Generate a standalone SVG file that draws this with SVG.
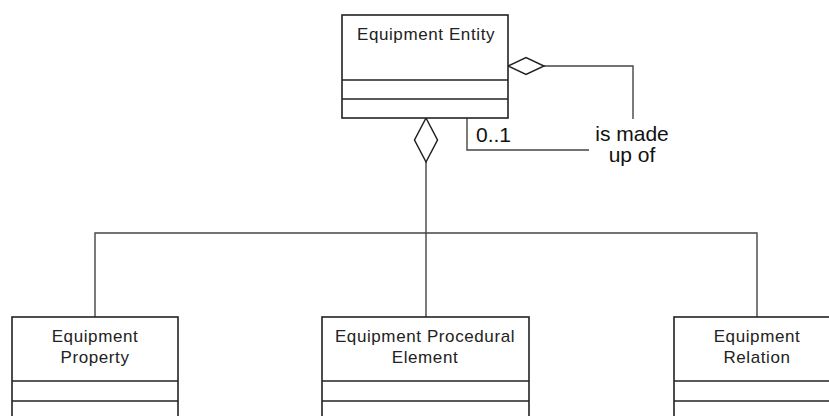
<svg xmlns="http://www.w3.org/2000/svg" width="829" height="416" viewBox="0 0 829 416">
<style>
.box{fill:#fff;stroke:#222;stroke-width:1.6}
.div{stroke:#222;stroke-width:1.6}
.t{font-family:"Liberation Sans",Arial,sans-serif;font-size:17px;letter-spacing:0.6px;fill:#222;text-anchor:middle}
.lbl{font-family:"Liberation Sans",Arial,sans-serif;font-size:21px;fill:#111}
.c{fill:none;stroke:#444;stroke-width:1.4}
.dia{fill:#fff;stroke:#222;stroke-width:1.5}
</style>
<rect width="829" height="416" fill="#fff"/>
<g id="connectors">
<polyline class="c" points="544,66 633,66 633,119"/>
<polyline class="c" points="467,118 467,150 589,150"/>
<line class="c" x1="426" y1="162" x2="426" y2="317"/>
<polyline class="c" points="95,317 95,233 757,233 757,317"/>
<polygon class="dia" points="508,66 526,57.5 544,66 526,74.5"/>
<polygon class="dia" points="426,118 437.5,140 426,162 414.5,140"/>
<text class="lbl" x="476" y="142">0..1</text>
<text class="lbl" x="632" y="141" text-anchor="middle">is made</text>
<text class="lbl" x="632" y="162" text-anchor="middle">up of</text>
</g>
<g id="equipment-entity">
<rect class="box" x="342" y="15" width="166" height="103"/>
<line class="div" x1="342" y1="80" x2="508" y2="80"/>
<line class="div" x1="342" y1="99" x2="508" y2="99"/>
<text class="t" x="426" y="40">Equipment Entity</text>
</g>
<g id="equipment-property">
<rect class="box" x="12" y="317" width="166" height="120"/>
<line class="div" x1="12" y1="381" x2="178" y2="381"/>
<line class="div" x1="12" y1="401" x2="178" y2="401"/>
<text class="t" x="95" y="342">Equipment</text>
<text class="t" x="95" y="363">Property</text>
</g>
<g id="equipment-procedural-element">
<rect class="box" x="322" y="317" width="207" height="120"/>
<line class="div" x1="322" y1="381" x2="529" y2="381"/>
<line class="div" x1="322" y1="401" x2="529" y2="401"/>
<text class="t" x="425" y="342">Equipment Procedural</text>
<text class="t" x="425" y="363">Element</text>
</g>
<g id="equipment-relation">
<rect class="box" x="674" y="317" width="166" height="120"/>
<line class="div" x1="674" y1="381" x2="840" y2="381"/>
<line class="div" x1="674" y1="401" x2="840" y2="401"/>
<text class="t" x="757" y="342">Equipment</text>
<text class="t" x="757" y="363">Relation</text>
</g>
</svg>
